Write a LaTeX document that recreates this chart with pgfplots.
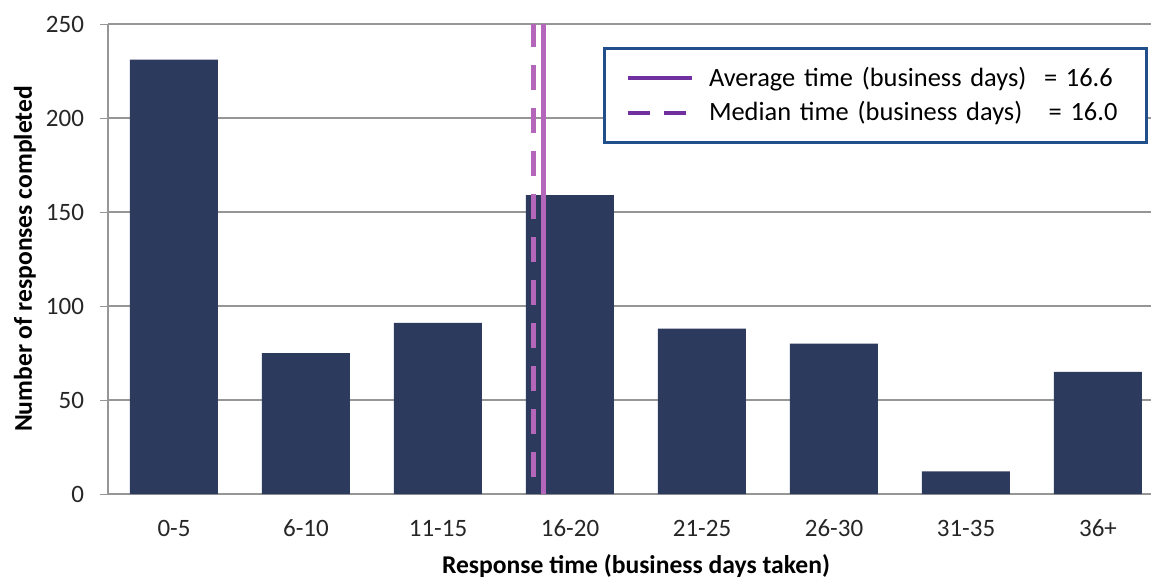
\documentclass[border=0pt]{standalone}
\usepackage{pgfplots}
\pgfplotsset{compat=1.18}
\usepackage{fontspec}
\setmainfont{Carlito}

\definecolor{barnavy}{RGB}{44,58,94}
\definecolor{linepink}{RGB}{180,102,186}
\definecolor{legpurple}{RGB}{112,48,160}
\definecolor{legborder}{RGB}{33,79,140}
\definecolor{axgray}{RGB}{150,150,150}

\begin{document}
\begin{tikzpicture}
    \useasboundingbox (-54pt,-42.5pt) rectangle (521.5pt,247pt);
    \begin{axis}[
        at={(0,0)}, anchor=south west,
        scale only axis,
        width=528pt, height=235pt,
        xmin=-0.5, xmax=7.5,
        ymin=0, ymax=250,
        xtick={0,...,7},
        xticklabels={0-5,6-10,11-15,16-20,21-25,26-30,31-35,36+},
        minor xtick={-0.5,0.5,...,7.5},
        ytick={0,50,...,250},
        xtick style={draw=none},
        minor x tick style={axgray},
        ytick style={axgray},
        tick align=outside,
        major tick length=4pt,
        minor tick length=4pt,
        ymajorgrids,
        grid style={axgray, line width=0.6pt},
        axis x line*=bottom,
        axis y line*=left,
        axis line style={axgray, line width=0.6pt, -},
        x tick label style={yshift=-5.5pt},
        y tick label style={xshift=-4.5pt},
        tick label style={font=\fontsize{12.5}{14}\selectfont, text=black!85},
        /pgf/number format/assume math mode=true,
        xlabel={Response time (business days taken)},
        ylabel={Number of responses completed},
        label style={font=\fontsize{12.8}{15}\selectfont\bfseries},
        xlabel style={at={(axis description cs:0.5,0)}, anchor=center, yshift=-36pt},
        ylabel style={at={(axis description cs:0,0.5)}, anchor=center, yshift=41.5pt},
        legend style={
            at={(247.5pt,225pt)}, anchor=north west,
            draw=legborder, line width=1.5pt,
            font=\fontsize{13.2}{15}\selectfont,
            inner xsep=10.5pt, inner ysep=7.5pt,
            row sep=2pt,
            text width=206pt,
        },
        legend cell align=left,
        legend image code/.code={
            \draw[#1, line width=2pt] (0pt,0pt) -- (32pt,0pt);
            \path (38pt,0pt);
        },
    ]
        \addplot[ybar, bar width=44pt, fill=barnavy, draw=none, forget plot]
            coordinates {(0,231) (1,75) (2,91) (3,159) (4,88) (5,80) (6,12) (7,65)};

        % median (dashed) and average (solid)
        \addplot[linepink, line width=2.5pt, dash pattern=on 12.5pt off 9pt, forget plot]
            coordinates {(2.727,251) (2.727,-1.5)};
        \addplot[linepink, line width=2.5pt, forget plot]
            coordinates {(2.797,250) (2.797,0)};

        \addlegendimage{legpurple}
        \addlegendentry{Average time (business days)\ \ = 16.6}
        \addlegendimage{legpurple, dash pattern=on 11pt off 7pt}
        \addlegendentry{Median time (business days)\ \ \ = 16.0}
    \end{axis}
\end{tikzpicture}
\end{document}
